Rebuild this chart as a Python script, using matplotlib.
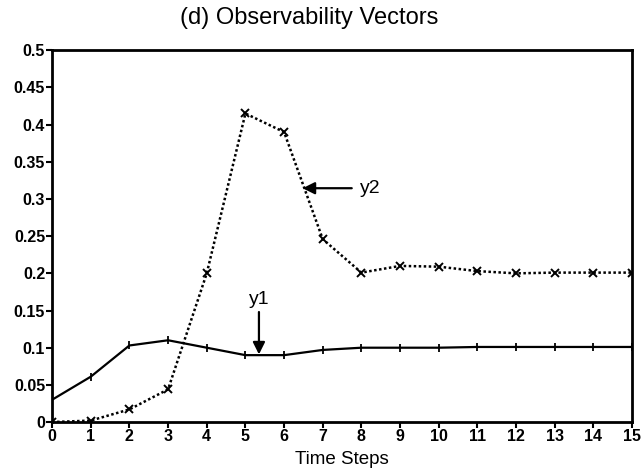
import matplotlib
matplotlib.use('Agg')
import matplotlib.pyplot as plt
import numpy as np

plt.rcParams['font.family'] = ['Liberation Sans', 'DejaVu Sans']

# data
steps = np.arange(0, 16)
y1 = [0.030, 0.061, 0.103, 0.110, 0.100, 0.090, 0.090, 0.097,
      0.100, 0.100, 0.100, 0.101, 0.101, 0.101, 0.101, 0.101]
y2 = [0.000, 0.002, 0.017, 0.044, 0.200, 0.415, 0.390, 0.246,
      0.201, 0.210, 0.209, 0.203, 0.200, 0.201, 0.201, 0.201]
yticks = [0, 0.05, 0.1, 0.15, 0.2, 0.25, 0.3, 0.35, 0.4, 0.45, 0.5]
ytick_labels = ['0', '0.05', '0.1', '0.15', '0.2', '0.25', '0.3', '0.35', '0.4', '0.45', '0.5']

fig = plt.figure(figsize=(6.43, 4.70), dpi=100)
ax = fig.add_axes([0.081, 0.102, 0.902, 0.791])

ax.plot(steps, y1, color='black', lw=1.6, marker='|', ms=6, mew=1.3)
ax.plot(steps, y2, color='black', lw=1.8, ls=(0, (1, 1)), marker='x', ms=6, mew=1.4)

# arrows with labels
ax.annotate('', xy=(6.48, 0.3145), xytext=(7.75, 0.3145),
            arrowprops=dict(arrowstyle='-|>', color='black', lw=1.6,
                            mutation_scale=18, shrinkA=0, shrinkB=0))
ax.text(7.95, 0.3145, 'y2', fontsize=14, va='center', ha='left')
ax.annotate('', xy=(5.35, 0.091), xytext=(5.35, 0.148),
            arrowprops=dict(arrowstyle='-|>', color='black', lw=1.6,
                            mutation_scale=18, shrinkA=0, shrinkB=0))
ax.text(5.35, 0.153, 'y1', fontsize=14, va='bottom', ha='center')

ax.set_xlim(0, 15)
ax.set_ylim(0, 0.5)
ax.set_xticks(steps)
ax.set_yticks(yticks)
ax.set_yticklabels(ytick_labels)
for lbl in ax.get_xticklabels() + ax.get_yticklabels():
    lbl.set_fontweight('bold')
ax.tick_params(axis='both', labelsize=11.5, width=1.5, length=4, direction='out', pad=1)

for s in ax.spines.values():
    s.set_linewidth(2)

fig.text(0.481, 0.962, '(d) Observability Vectors', ha='center', va='center', fontsize=17)
fig.text(0.532, 0.022, 'Time Steps', ha='center', va='center', fontsize=13.5)

fig.savefig('out.png', dpi=100)
